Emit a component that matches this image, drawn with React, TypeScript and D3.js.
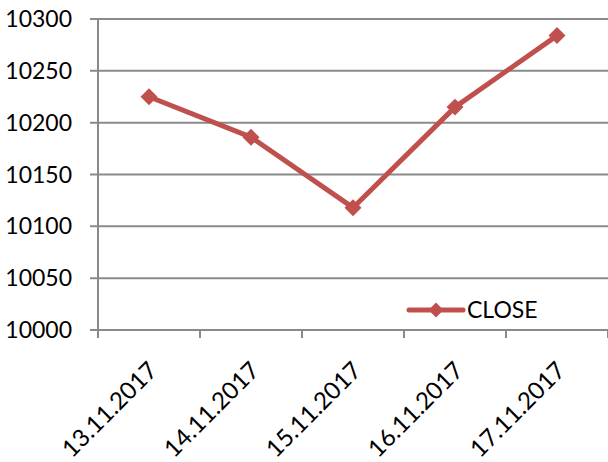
import React from "react";
import * as d3 from "d3";

const categories = ["13.11.2017", "14.11.2017", "15.11.2017", "16.11.2017", "17.11.2017"];
const closeValues = [10225, 10186, 10118, 10215, 10284];
const yTicks = [10000, 10050, 10100, 10150, 10200, 10250, 10300];
const seriesName = "CLOSE";

export default function App() {
  const W = 608, H = 462;
  const left = 98, right = 608, top = 19, bottom = 330;
  const x = d3.scaleBand<string>().domain(categories).range([left, right]).padding(0);
  const y = d3.scaleLinear().domain([10000, 10300]).range([bottom, top]);
  const color = "#C0504D";
  const grid = "#8a8a8a";
  const font = "Lato, 'Open Sans', sans-serif";
  const pts: [number, number][] = categories.map((c, i) => [x(c)! + x.bandwidth() / 2, y(closeValues[i])]);
  const line = d3.line()(pts)!;
  const diamond = d3.symbol(d3.symbolSquare, 144)()!;
  const xTickPos = [...categories.map((c) => x(c)!), right];
  return (
    <svg width={W} height={H} style={{ position: "absolute", left: 0, top: 0 }}>
      <rect width={W} height={H} fill="#fff" />
      {yTicks.map((t) => (
        <g key={t}>
          <line x1={90} x2={right} y1={y(t)} y2={y(t)} stroke={grid} strokeWidth={2} />
          <text x={72} y={y(t)} dy="0.35em" textAnchor="end" fontFamily={font} fontSize={23} fill="#000">
            {t}
          </text>
        </g>
      ))}
      <line x1={left} x2={left} y1={top} y2={338} stroke={grid} strokeWidth={2} />
      {xTickPos.map((p, i) => (
        <line key={i} x1={p} x2={p} y1={bottom} y2={338} stroke={grid} strokeWidth={2} />
      ))}
      {categories.map((c) => {
        const cx = x(c)! + x.bandwidth() / 2 - 2;
        const cy = 360;
        return (
          <text key={c} transform={`translate(${cx},${cy}) rotate(-45)`} textAnchor="end" dy="0.7em" fontFamily={font} fontSize={24} fill="#000">
            {c}
          </text>
        );
      })}
      <path d={line} fill="none" stroke={color} strokeWidth={5} strokeLinejoin="round" />
      {pts.map((p, i) => (
        <path key={i} d={diamond} transform={`translate(${p[0]},${p[1]}) rotate(45)`} fill={color} />
      ))}
      <g>
        <line x1={409} x2={463} y1={310} y2={310} stroke={color} strokeWidth={5} strokeLinecap="round" />
        <path d={d3.symbol(d3.symbolSquare, 110)()!} transform={`translate(436,310) rotate(45)`} fill={color} />
        <text x={467} y={310} dy="0.35em" fontFamily={font} fontSize={23} fill="#000">
          {seriesName}
        </text>
      </g>
    </svg>
  );
}
